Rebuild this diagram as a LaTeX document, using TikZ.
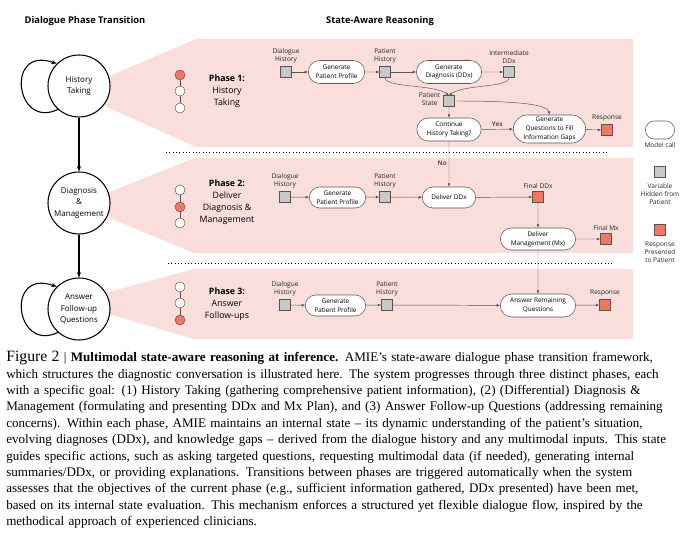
\documentclass[tikz,border=0pt]{standalone}
\usepackage{fontspec}
\setmainfont{Liberation Serif}
\newfontfamily\diagfont{Open Sans}
\usetikzlibrary{shapes.misc, arrows.meta, positioning}

\definecolor{phasepink}{RGB}{250,222,220}
\definecolor{respred}{RGB}{243,118,100}
\definecolor{vargray}{RGB}{200,200,200}
\definecolor{edgegray}{RGB}{85,85,85}

\newcommand{\capline}[1]{\makebox[514.5pt][s]{#1}}

\begin{document}
\begin{tikzpicture}[x=0.75pt, y=-0.75pt,
  every node/.style={font=\diagfont},
  phasecirc/.style={circle, draw, line width=0.8pt, fill=white, minimum size=46.5pt, inner sep=0pt, align=center, font=\diagfont\fontsize{6}{8.4}\selectfont},
  pill/.style={rounded rectangle, draw=edgegray, line width=0.4pt, fill=white, minimum height=16.5pt, inner sep=1pt, align=center, font=\diagfont\fontsize{4.8}{6.6}\selectfont},
  varbox/.style={rectangle, draw=edgegray, line width=0.4pt, fill=vargray, minimum size=8.25pt, inner sep=0pt},
  respbox/.style={varbox, fill=respred},
  lbl/.style={align=center, inner sep=1pt, font=\diagfont\fontsize{4.9}{6}\selectfont, text=black!85},
  flow/.style={-{Latex[length=2.5pt,width=2pt]}, edgegray, line width=0.35pt},
  phasedot/.style={circle, draw=edgegray, line width=0.35pt, fill=white, minimum size=7.5pt, inner sep=0pt},
  phaselbl/.style={align=center, font=\diagfont\fontsize{6.6}{9}\selectfont},
  title/.style={font=\diagfont\bfseries\fontsize{7}{8}\selectfont},
  yesno/.style={font=\diagfont\bfseries\fontsize{4.8}{6}\selectfont, inner sep=1.5pt}]
\useasboundingbox (0,0) rectangle (700,545);

% Pink phase panels
\fill[phasepink] (105,78) -- (196,39) -- (633,39) -- (633,147) -- (196,147) -- (105,106) -- cycle;
\fill[phasepink] (105,194) -- (194,158) -- (633,158) -- (633,253) -- (194,253) -- (105,216) -- cycle;
\fill[phasepink] (105,293) -- (194,269) -- (633,269) -- (633,339) -- (194,339) -- (105,313) -- cycle;

% Phase separators
\draw[dotted, line width=0.5pt] (166,152) -- (608,152);
\draw[dotted, line width=0.5pt] (168,263) -- (612,263);

% Titles
\node[title] (t1) at (85,21) {Dialogue Phase Transition};
\node[title] (t2) at (380,21) {State-Aware Reasoning};

% Dialogue phases
\node[phasecirc] (ht) at (79,86) {History\\Taking};
\node[phasecirc] (dm) at (79,203) {Diagnosis\\\&\\Management};
\node[phasecirc] (af) at (79,309) {Answer\\Follow-up\\Questions};
\draw[-{Stealth[length=4pt]}, line width=0.8pt] (ht) -- (dm);
\draw[-{Stealth[length=4pt]}, line width=0.8pt] (dm) -- (af);
\draw[-{Stealth[length=4pt]}, line width=0.8pt] (ht.228) .. controls (15,130) and (5,45) .. (ht.135);
\draw[-{Stealth[length=4pt]}, line width=0.8pt] (af.228) .. controls (15,353) and (5,268) .. (af.135);

% Phase indicators
\node[phasedot, fill=respred] (d11) at (180,75) {};
\node[phasedot] (d12) at (180,91) {};
\node[phasedot] (d13) at (180,108) {};
\node[phasedot] (d21) at (180,190) {};
\node[phasedot, fill=respred] (d22) at (180,207) {};
\node[phasedot] (d23) at (180,223) {};
\node[phasedot] (d31) at (180,287) {};
\node[phasedot] (d32) at (180,303) {};
\node[phasedot, fill=respred] (d33) at (180,320) {};
\draw[edgegray, line width=0.6pt] (d11) -- (d12) (d12) -- (d13);
\draw[edgegray, line width=0.6pt] (d21) -- (d22) (d22) -- (d23);
\draw[edgegray, line width=0.6pt] (d31) -- (d32) (d32) -- (d33);
\node[phaselbl] (p1) at (227,91) {\textbf{Phase 1:}\\History\\Taking};
\node[phaselbl] (p2) at (227,202.5) {\textbf{Phase 2:}\\Deliver\\Diagnosis \&\\Management};
\node[phaselbl] (p3) at (227,304) {\textbf{Phase 3:}\\Answer\\Follow-ups};

% Phase 1: history taking
\node[varbox] (dh1) at (286,72) {};
\node[pill, minimum width=44.25pt, minimum height=17.25pt] (gpp1) at (336.5,72) {Generate\\Patient Profile};
\node[varbox] (ph1) at (385,72) {};
\node[pill, minimum width=51pt, minimum height=17.25pt] (gddx) at (449,72) {Generate\\Diagnosis (DDx)};
\node[varbox] (iddx) at (509,72) {};
\node[varbox] (pstate) at (449,101) {};
\node[pill, minimum width=50.25pt, minimum height=17.25pt] (cont) at (449,129.5) {Continue\\History Taking?};
\node[pill, minimum width=56.25pt, minimum height=21pt] (gq) at (549.5,129) {Generate\\Questions to Fill\\Information Gaps};
\node[respbox] (resp1) at (607,130) {};
\node[lbl, above=1pt of dh1] (dh1l) {Dialogue\\History};
\node[lbl, above=1pt of ph1] (ph1l) {Patient\\History};
\node[lbl, above=1pt of iddx] (iddxl) {Intermediate\\DDx};
\node[lbl, left=1pt of pstate, yshift=1.5pt] (pstatel) {Patient\\State};
\node[lbl, above=1pt of resp1] (resp1l) {Response};
\draw[flow] (dh1) -- (gpp1);
\draw[flow] (gpp1) -- (ph1);
\draw[flow] (ph1) -- (gddx);
\draw[flow] (gddx) -- (iddx);
\draw[flow] (ph1.south) .. controls (386,88) and (432,84) .. (pstate.north);
\draw[flow] (iddx.south) .. controls (508,88) and (466,84) .. (pstate.north);
\draw[flow] (pstate.east) .. controls (505,101) and (547,103) .. (gq.north);
\draw[flow] (pstate) -- (cont);
\draw[flow] (cont) -- node[yesno, above] (yes) {Yes} (gq);
\draw[flow] (gq) -- (resp1);

% Phase 2: diagnosis and management
\node[varbox] (dh2) at (285,197) {};
\node[pill, minimum width=44.25pt, minimum height=15.75pt] (gpp2) at (337.5,197.5) {Generate\\Patient Profile};
\node[varbox] (ph2) at (385,197) {};
\node[pill, minimum width=42pt, minimum height=15.75pt] (dddx) at (449,197.5) {Deliver DDx};
\node[respbox] (fddx) at (538,197) {};
\node[pill, minimum width=58.5pt, minimum height=16.5pt] (dmx) at (538,239) {Deliver\\Management (Mx)};
\node[respbox] (fmx) at (606,239) {};
\node[lbl, above=1pt of dh2] (dh2l) {Dialogue\\History};
\node[lbl, above=1pt of ph2] (ph2l) {Patient\\History};
\node[lbl, above=1pt of fddx] (fddxl) {Final DDx};
\node[lbl, above=1pt of fmx] (fmxl) {Final Mx};
\draw[flow] (cont) -- node[yesno, left, pos=0.48] (no) {No} (dddx);
\draw[flow] (dh2) -- (gpp2);
\draw[flow] (gpp2) -- (ph2);
\draw[flow] (ph2) -- (dddx);
\draw[flow] (dddx) -- (fddx);
\draw[flow] (fddx) -- (dmx);
\draw[flow] (dmx) -- (fmx);

% Phase 3: follow-up questions
\node[varbox] (dh3) at (285,305) {};
\node[pill, minimum width=47.25pt, minimum height=15.75pt] (gpp3) at (335.5,305.5) {Generate\\Patient Profile};
\node[varbox] (ph3) at (387,305) {};
\node[pill, minimum width=58.5pt, minimum height=17.25pt] (arq) at (538,305.5) {Answer Remaining\\Questions};
\node[respbox] (resp3) at (605,305) {};
\node[lbl, above=1pt of dh3] (dh3l) {Dialogue\\History};
\node[lbl, above=1pt of ph3] (ph3l) {Patient\\History};
\node[lbl, above=1pt of resp3] (resp3l) {Response};
\draw[flow] (dmx) -- (arq);
\draw[flow] (dh3) -- (gpp3);
\draw[flow] (gpp3) -- (ph3);
\draw[flow] (ph3) -- (arq);
\draw[flow] (arq) -- (resp3);

% Legend
\node[pill, minimum width=24pt, minimum height=13.5pt] (legcall) at (660,130) {};
\node[varbox] (legvar) at (660,172) {};
\node[respbox] (legresp) at (660,230) {};
\node[lbl, below=1pt of legcall] (legcalll) {Model call};
\node[lbl, below=3pt of legvar] (legvarl) {Variable\\Hidden from\\Patient};
\node[lbl, below=3pt of legresp] (legrespl) {Response\\Presented\\to Patient};

% Caption
\node[anchor=north west, inner sep=0pt, text width=514.5pt, font=\rmfamily\fontsize{9.8}{12.3}\selectfont] (cap) at (6,351) {%
\capline{{\fontsize{11.8}{12.3}\selectfont Figure 2} | \textbf{Multimodal state-aware reasoning at inference.} AMIE's state-aware dialogue phase transition framework,}\\
\capline{which structures the diagnostic conversation is illustrated here. The system progresses through three distinct phases, each}\\
\capline{with a specific goal: (1) History Taking (gathering comprehensive patient information), (2) (Differential) Diagnosis \&}\\
\capline{Management (formulating and presenting DDx and Mx Plan), and (3) Answer Follow-up Questions (addressing remaining}\\
\capline{concerns). Within each phase, AMIE maintains an internal state -- its dynamic understanding of the patient's situation,}\\
\capline{evolving diagnoses (DDx), and knowledge gaps -- derived from the dialogue history and any multimodal inputs. This state}\\
\capline{guides specific actions, such as asking targeted questions, requesting multimodal data (if needed), generating internal}\\
\capline{summaries/DDx, or providing explanations. Transitions between phases are triggered automatically when the system}\\
\capline{assesses that the objectives of the current phase (e.g., sufficient information gathered, DDx presented) have been met,}\\
\capline{based on its internal state evaluation. This mechanism enforces a structured yet flexible dialogue flow, inspired by the}\\
methodical approach of experienced clinicians.};
\end{tikzpicture}
\end{document}
